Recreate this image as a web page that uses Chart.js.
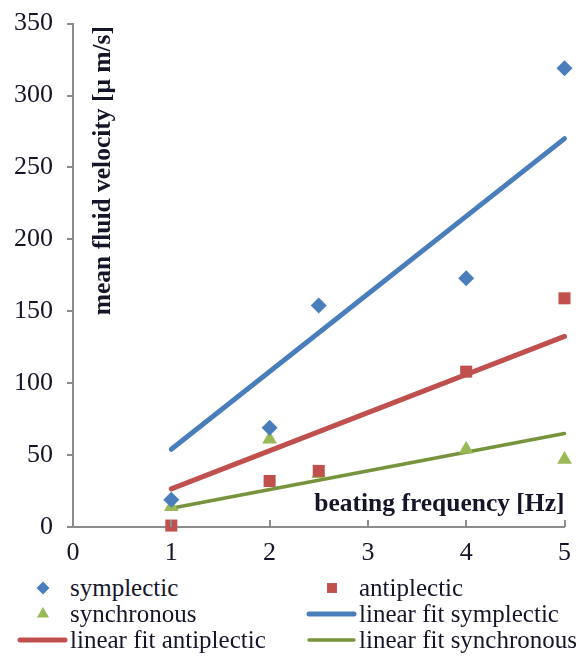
<!DOCTYPE html>
<html>
<head>
<meta charset="utf-8">
<script src="https://cdn.jsdelivr.net/npm/chart.js@4"></script>
<style>
  body { margin: 0; background: #fff; overflow: hidden; }
  #wrap { position: relative; width: 579px; height: 657px; overflow: hidden; }
  #box { position: absolute; left: 0; top: -6px; width: 582px; height: 578px; }
  #legend { position: absolute; left: 17px; top: 575px; width: 562px;
    display: grid; grid-template-columns: 289px 273px; grid-auto-rows: 26px;
    font: 25px "Liberation Serif", serif; color: #15152a; }
  .item { display: flex; align-items: center; white-space: nowrap; }
  .sym { width: 53px; height: 20px; flex: none; }
</style>
</head>
<body>
<div id="wrap">
  <div id="box"><canvas id="myChart"></canvas></div>
  <div id="legend"></div>
</div>
<script>
// measured points
var freq = [1, 2, 2.5, 4, 5];
var symplectic = [19, 69, 154, 173, 319];
var antiplectic = [1, 32, 39, 108, 159];
var synchronous = [14, 61, 37, 54, 47];

var fitFreq = [1, 5];
var fitSymplectic = [54, 270];
var fitAntiplectic = [26.5, 132.5];
var fitSynchronous = [13, 65];

var xTicks = [0, 1, 2, 3, 4, 5];
var yTicks = [0, 50, 100, 150, 200, 250, 300, 350];

var blue = '#4a7ebb', red = '#c0504d', green = '#98b954', darkGreen = '#77933c';
var axisGrey = '#8c8c8c';
var textCol = '#15152a';
var serif = '"Liberation Serif", "Times New Roman", serif';

function pts(xs, ys) {
  return xs.map(function (x, i) { return { x: x, y: ys[i] }; });
}

// titles sit inside the plot, and x ticks point up into it
var insideBits = {
  id: 'insideBits',
  afterDraw: function (chart) {
    var ctx = chart.ctx, xs = chart.scales.x, ys = chart.scales.y;
    ctx.save();
    ctx.strokeStyle = axisGrey;
    ctx.lineWidth = 2;
    xTicks.forEach(function (v) {
      if (v === 0) return;
      var px = Math.round(xs.getPixelForValue(v));
      ctx.beginPath();
      ctx.moveTo(px, ys.bottom);
      ctx.lineTo(px, ys.bottom - 7);
      ctx.stroke();
    });
    ctx.fillStyle = textCol;
    ctx.font = 'bold 25.5px ' + serif;
    ctx.textAlign = 'right';
    ctx.textBaseline = 'alphabetic';
    ctx.fillText('beating frequency [Hz]', xs.right, ys.bottom - 16);
    ctx.translate(110, ys.top + 147);
    ctx.rotate(-Math.PI / 2);
    ctx.textAlign = 'center';
    ctx.fillText('mean fluid velocity [\u03bc m/s]', 0, 0);
    ctx.restore();
  }
};

var ctx = document.getElementById('myChart').getContext('2d');

var myChart = new Chart(ctx, {
  type: 'scatter',
  data: {
    datasets: [
      {
        label: 'symplectic',
        data: pts(freq, symplectic),
        pointStyle: 'rectRot',
        pointRadius: 8,
        backgroundColor: blue,
        borderColor: blue,
        borderWidth: 0
      },
      {
        label: 'antiplectic',
        data: pts(freq, antiplectic),
        pointStyle: 'rect',
        pointRadius: 8.5,
        backgroundColor: red,
        borderColor: red,
        borderWidth: 0
      },
      {
        label: 'synchronous',
        data: pts(freq, synchronous),
        pointStyle: 'triangle',
        pointRadius: 8.5,
        backgroundColor: green,
        borderColor: green,
        borderWidth: 0
      },
      {
        label: 'linear fit symplectic',
        data: pts(fitFreq, fitSymplectic),
        showLine: true,
        pointRadius: 0,
        borderColor: blue,
        borderWidth: 5,
        borderCapStyle: 'round'
      },
      {
        label: 'linear fit antiplectic',
        data: pts(fitFreq, fitAntiplectic),
        showLine: true,
        pointRadius: 0,
        borderColor: red,
        borderWidth: 5,
        borderCapStyle: 'round'
      },
      {
        label: 'linear fit synchronous',
        data: pts(fitFreq, fitSynchronous),
        showLine: true,
        pointRadius: 0,
        borderColor: darkGreen,
        borderWidth: 3.5,
        borderCapStyle: 'round'
      }
    ]
  },
  options: {
    responsive: true,
    maintainAspectRatio: false,
    animation: false,
    clip: false,
    layout: { padding: { top: 1, right: 6, left: 0, bottom: 0 } },
    plugins: {
      legend: { display: false },
      tooltip: { enabled: false }
    },
    scales: {
      x: {
        type: 'linear',
        min: 0,
        max: 5,
        afterBuildTicks: function (s) { s.ticks = xTicks.map(function (v) { return { value: v }; }); },
        afterFit: function (s) { s.height = 45; },
        grid: { display: false, drawTicks: false },
        border: { color: axisGrey, width: 2 },
        ticks: { padding: 11, color: textCol, font: { family: serif, size: 26 }, maxRotation: 0 }
      },
      y: {
        min: 0,
        max: 350,
        afterBuildTicks: function (s) { s.ticks = yTicks.map(function (v) { return { value: v }; }); },
        afterFit: function (s) { s.width = 73; },
        grid: { drawOnChartArea: false, tickLength: 6, color: axisGrey, lineWidth: 2 },
        border: { color: axisGrey, width: 2 },
        ticks: { padding: 14, color: textCol, font: { family: serif, size: 26 } }
      }
    }
  },
  plugins: [insideBits]
});

// legend in two columns, built from the datasets
function legendSymbol(ds) {
  var c = document.createElement('canvas');
  c.width = 53; c.height = 20; c.className = 'sym';
  var g = c.getContext('2d');
  if (ds.showLine) {
    g.strokeStyle = ds.borderColor;
    g.lineWidth = ds.borderWidth;
    g.lineCap = 'round';
    g.beginPath(); g.moveTo(3, 10); g.lineTo(48, 10); g.stroke();
  } else {
    g.fillStyle = ds.backgroundColor;
    Chart.helpers.drawPoint(g, { pointStyle: ds.pointStyle, radius: ds.pointRadius - 1.5, borderWidth: 0 }, 26, 10);
  }
  return c;
}
var legend = document.getElementById('legend');
myChart.data.datasets.forEach(function (ds) {
  var item = document.createElement('div');
  item.className = 'item';
  item.appendChild(legendSymbol(ds));
  var t = document.createElement('span');
  t.textContent = ds.label;
  item.appendChild(t);
  legend.appendChild(item);
});
</script>
</body>
</html>
